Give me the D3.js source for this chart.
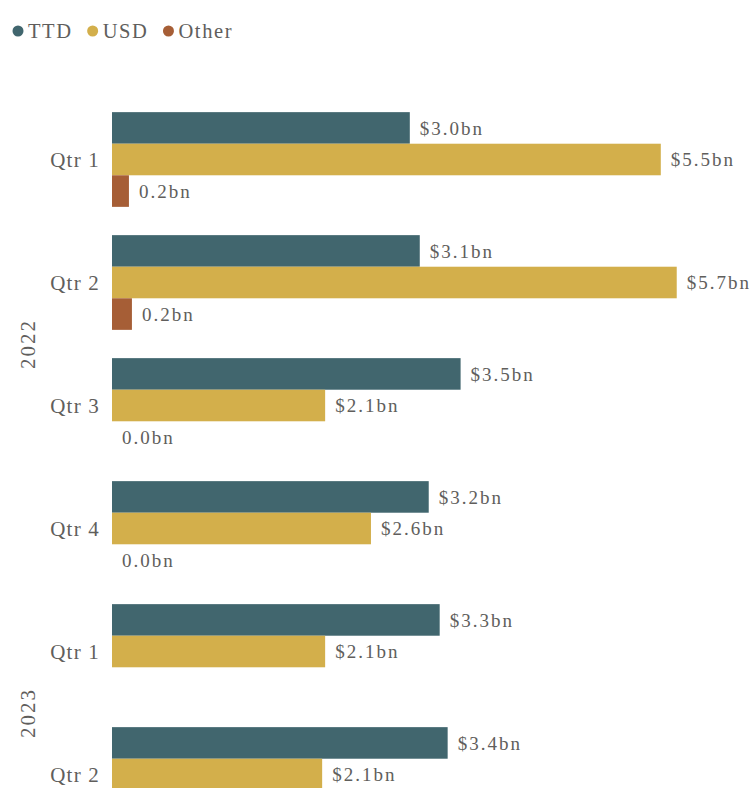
<!DOCTYPE html>
<html>
<head>
<meta charset="utf-8">
<script src="https://cdn.jsdelivr.net/npm/d3@7"></script>
<style>
  html, body { margin: 0; padding: 0; background: #fff; overflow: hidden; }
  svg { display: block; font-family: "Liberation Serif", "Times New Roman", serif; }
</style>
</head>
<body>
<svg id="chart" width="751" height="840"></svg>
<script>
// ---- data ----
const years = ["2022", "2022", "2022", "2022", "2023", "2023"];
const quarters = ["Qtr 1", "Qtr 2", "Qtr 3", "Qtr 4", "Qtr 1", "Qtr 2"];
const seriesNames = ["TTD", "USD", "Other"];
const ttdValues = [2.99, 3.09, 3.50, 3.18, 3.29, 3.37];
const usdValues = [5.51, 5.67, 2.14, 2.60, 2.14, 2.11];
const otherValues = [0.17, 0.20, 0.0, 0.0, null, null];
const seriesColors = ["#41666E", "#D3AF4B", "#A65E36"];

const rows = quarters.map((q, i) => ({
  key: years[i] + " " + q, year: years[i], quarter: q,
  values: [ttdValues[i], usdValues[i], otherValues[i]]
}));

const svg = d3.select("#chart");
const textColor = "#605E5C";

// ---- scales ----
const x = d3.scaleLinear().domain([0, 6]).range([112, 112 + 6 * 99.6]);
const y = d3.scaleBand()
  .domain(rows.map(d => d.key))
  .range([98, 98 + rows.length * 123])
  .paddingInner(0.23).paddingOuter(0.115);
const ySub = d3.scaleBand().domain(seriesNames).range([0, y.bandwidth()]).padding(0);
const color = d3.scaleOrdinal().domain(seriesNames).range(seriesColors);

// ---- legend ----
const legend = svg.append("g").attr("class", "legend");
let lx = 18;
seriesNames.forEach(name => {
  legend.append("circle").attr("cx", lx).attr("cy", 31).attr("r", 5.5).attr("fill", color(name));
  const t = legend.append("text")
    .attr("x", lx + 10).attr("y", 37.5)
    .attr("font-size", 20.5).attr("letter-spacing", 1.6)
    .attr("fill", textColor).text(name);
  const w = t.node().getComputedTextLength();
  lx = lx + 10 + w + 20;
});

// ---- bars ----
const groups = svg.append("g").selectAll("g.grp")
  .data(rows).join("g").attr("class", "grp")
  .attr("transform", d => `translate(0,${y(d.key)})`);

groups.each(function(d) {
  const g = d3.select(this);
  seriesNames.forEach((s, j) => {
    const v = d.values[j];
    if (v === null || v === undefined) return;
    const y0 = ySub(s);
    const h = ySub.bandwidth();
    if (v > 0) {
      g.append("rect")
        .attr("x", x(0)).attr("y", y0)
        .attr("width", x(v) - x(0)).attr("height", h)
        .attr("fill", color(s));
    }
    g.append("text")
      .attr("x", x(v) + 10).attr("y", y0 + h / 2)
      .attr("dy", "0.35em")
      .attr("font-size", 19).attr("letter-spacing", 2)
      .attr("fill", textColor)
      .text((s === "Other" ? "" : "$") + v.toFixed(1) + "bn");
  });
});

// ---- quarter axis labels ----
const yAxis = d3.axisLeft(y).tickSize(0).tickPadding(0)
  .tickFormat(k => rows.find(r => r.key === k).quarter);
const ax = svg.append("g").attr("transform", "translate(100,0)").call(yAxis);
ax.select(".domain").remove();
ax.selectAll("text")
  .attr("font-family", "Liberation Serif, Times New Roman, serif")
  .attr("font-size", 21).attr("letter-spacing", 1.2)
  .attr("fill", textColor).attr("dy", "0.35em");

// ---- year labels ----
const yearList = Array.from(new Set(years));
yearList.forEach(yr => {
  const keys = rows.filter(r => r.year === yr).map(r => r.key);
  const top = y(keys[0]) - y.step() * y.paddingOuter();
  const bottom = y(keys[keys.length - 1]) + y.bandwidth() + y.step() * y.paddingOuter();
  const cy = (top + bottom) / 2;
  svg.append("text")
    .attr("transform", `translate(35,${cy}) rotate(-90)`)
    .attr("text-anchor", "middle")
    .attr("font-size", 21).attr("letter-spacing", 2)
    .attr("fill", textColor).text(yr);
});
</script>
</body>
</html>
